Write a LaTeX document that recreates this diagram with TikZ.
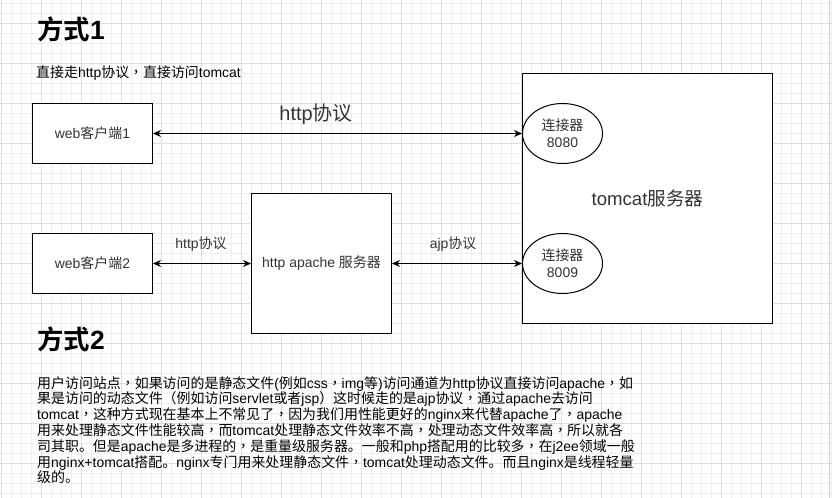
\documentclass[tikz,border=0pt]{standalone}
\usepackage{fontspec}
\setmainfont{Liberation Sans}
\newfontfamily\latinfont{Liberation Sans}
\newfontfamily\cjkfont{Noto Sans CJK SC}[BoldFont={Noto Sans CJK SC Bold}]
\newfontfamily\cjkpunct{Noto Sans CJK TC}
\XeTeXinterchartokenstate=1
\newXeTeXintercharclass\CJKclass
\newXeTeXintercharclass\PUNclass
\newcount\cjkc
\def\setcjkrange#1#2#3{\cjkc=#1\relax
  \loop\XeTeXcharclass\cjkc=#3\relax
  \ifnum\cjkc<#2\relax\advance\cjkc by 1\relax\repeat}
\setcjkrange{"4E00}{"9FFF}{\CJKclass}
\setcjkrange{"3000}{"303F}{\CJKclass}
\setcjkrange{"FF00}{"FFEF}{\CJKclass}
\XeTeXcharclass"FF0C=\PUNclass
\XeTeXinterchartoks 0 \CJKclass = {\cjkfont}
\XeTeXinterchartoks 4095 \CJKclass = {\cjkfont}
\XeTeXinterchartoks \CJKclass 0 = {\latinfont}
\XeTeXinterchartoks \CJKclass 4095 = {\latinfont}
\XeTeXinterchartoks 0 \PUNclass = {\cjkpunct}
\XeTeXinterchartoks 4095 \PUNclass = {\cjkpunct}
\XeTeXinterchartoks \CJKclass \PUNclass = {\cjkpunct}
\XeTeXinterchartoks \PUNclass \CJKclass = {\cjkfont}
\XeTeXinterchartoks \PUNclass 0 = {\latinfont}
\XeTeXinterchartoks \PUNclass 4095 = {\latinfont}
\usetikzlibrary{arrows.meta,shapes.geometric}
\definecolor{gminor}{HTML}{EEEEEE}
\definecolor{gmajor}{HTML}{DEDEDE}
\definecolor{txtc}{HTML}{333333}
\definecolor{edge}{HTML}{D0D0D0}
\tikzset{
  box/.style={draw=black, line width=1bp, fill=white, rectangle, inner sep=0pt,
    text=txtc, font=\fontsize{14}{17}\selectfont, align=center},
  oval/.style={draw=black, line width=1bp, fill=white, ellipse, inner sep=0pt,
    minimum width=80bp, minimum height=60bp, text=txtc,
    font=\fontsize{14}{17}\selectfont, align=center},
  conn/.style={line width=1bp, draw=black,
    {Stealth[length=8bp,width=7bp]}-{Stealth[length=8bp,width=7bp]}},
  lbl/.style={inner sep=0pt, text=txtc, font=\fontsize{14}{17}\selectfont},
  biglbl/.style={inner sep=0pt, text=txtc, font=\fontsize{20}{24}\selectfont},
  para/.style={anchor=base west, inner sep=0pt, text=black, font=\fontsize{14}{16}\selectfont},
  ttl/.style={anchor=west, inner sep=0pt, text=black, font=\fontsize{26.5}{30}\selectfont\bfseries},
  gridminor/.style={draw=gminor, line width=1bp},
  gridmajor/.style={draw=gmajor, line width=1bp}
}
\begin{document}
\begin{tikzpicture}[x=1bp,y=-1bp]
\useasboundingbox (0,0) rectangle (832,498);
\fill[white] (0,0) rectangle (832,498);
% grid
\foreach \gx in {1.5,11.5,...,831.5} \draw[gridminor] (\gx,0) -- (\gx,498);
\foreach \gy in {3.5,13.5,...,493.5} \draw[gridminor] (0,\gy) -- (832,\gy);
\foreach \gx in {1.5,41.5,...,801.5} \draw[gridmajor] (\gx,0) -- (\gx,498);
\foreach \gy in {23.5,63.5,...,463.5} \draw[gridmajor] (0,\gy) -- (832,\gy);
\draw[draw=edge, line width=1bp] (829.5,0) -- (829.5,498);

% titles and text
\node[ttl] (t1) at (37,29.5) {方式1};
\node[para] (sub) at (36,77.5) {直接走http协议，直接访问tomcat};
\node[ttl] (t2) at (37,339) {方式2};

% boxes
\node[box, minimum width=120bp, minimum height=60bp] (web1) at (92.5,133.5) {web客户端1};
\node[box, minimum width=120bp, minimum height=60bp] (web2) at (92.5,263.5) {web客户端2};
\node[box, minimum width=140bp, minimum height=140bp] (apache) at (321.5,263.5) {http apache 服务器};
\node[box, minimum width=250bp, minimum height=250bp, font=\fontsize{18.7}{22}\selectfont] (tomcat) at (647.5,198.5) {tomcat服务器};
\node[oval] (c8080) at (562.5,133.5) {连接器\\8080};
\node[oval] (c8009) at (562.5,263.5) {连接器\\8009};

% connectors
\draw[conn] (web1.east) -- (c8080.west);
\draw[conn] (web2.east) -- (apache.west);
\draw[conn] (apache.east) -- (c8009.west);

% connector labels
\node[biglbl] (lhttp1) at (316,114.5) {http协议};
\node[lbl] (lhttp2) at (201,244) {http协议};
\node[lbl] (lajp) at (453,244) {ajp协议};

% paragraph
\node[para] (p1) at (37,388) {用户访问站点，如果访问的是静态文件(例如css，img等)访问通道为http协议直接访问apache，如};
\node[para] (p2) at (37,403.8) {果是访问的动态文件（例如访问servlet或者jsp）这时候走的是ajp协议，通过apache去访问};
\node[para] (p3) at (37,419.6) {tomcat，这种方式现在基本上不常见了，因为我们用性能更好的nginx来代替apache了，apache};
\node[para] (p4) at (37,435.4) {用来处理静态文件性能较高，而tomcat处理静态文件效率不高，处理动态文件效率高，所以就各};
\node[para] (p5) at (37,451.2) {司其职。但是apache是多进程的，是重量级服务器。一般和php搭配用的比较多，在j2ee领域一般};
\node[para] (p6) at (37,467) {用nginx+tomcat搭配。nginx专门用来处理静态文件，tomcat处理动态文件。而且nginx是线程轻量};
\node[para] (p7) at (37,482.8) {级的。};
\end{tikzpicture}
\end{document}
